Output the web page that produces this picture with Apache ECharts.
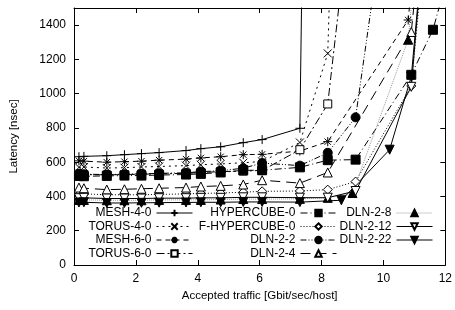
<!DOCTYPE html>
<html>
<head>
<meta charset="utf-8">
<script src="https://cdn.jsdelivr.net/npm/echarts@6/dist/echarts.min.js"></script>
<style>
  html, body { margin: 0; padding: 0; background: #fff; }
  #chart { width: 455px; height: 310px; }
</style>
</head>
<body>
<div id="chart"></div>
<script>
// accepted traffic values (shared low-load points) and latency per network
const xBase = [0.16, 0.32, 1.06, 1.63, 2.18, 2.75, 3.62, 4.1, 4.74, 5.47, 6.08, 7.3];

const mesh40Y = [632, 634, 638, 644, 650, 656, 668, 679, 690, 714, 732, 798];
const mesh40TailX = [7.36];
const mesh40TailY = [1600];

const torus40Y = [570, 572, 566, 568, 572, 575, 580, 585, 590, 597, 604, 715];
const torus40TailX = [8.2, 8.28];
const torus40TailY = [1235, 1700];

const mesh60Y = [608, 606, 600, 603, 606, 612, 618, 625, 632, 644, 646, 665];
const mesh60TailX = [8.2, 10.8, 11.0];
const mesh60TailY = [720, 1430, 1800];

const torus60Y = [530, 528, 526, 528, 530, 532, 535, 540, 545, 548, 552, 673];
const torus60TailX = [8.2, 8.65];
const torus60TailY = [940, 1650];

const hyperY = [520, 518, 520, 522, 522, 525, 528, 532, 540, 553, 553, 570];
const hyperTailX = [8.2, 9.1, 10.9, 11.6, 12.1];
const hyperTailY = [612, 615, 1110, 1373, 1700];

const fhyperY = [412, 415, 410, 410, 410, 412, 415, 418, 420, 425, 430, 432];
const fhyperTailX = [8.2, 9.1, 10.9, 11.3];
const fhyperTailY = [440, 487, 1045, 1800];

const dln22Y = [532, 530, 528, 530, 532, 535, 538, 545, 550, 565, 595, 580];
const dln22TailX = [8.2, 9.1, 9.65];
const dln22TailY = [655, 862, 1560];

const dln24Y = [452, 448, 440, 442, 445, 448, 452, 458, 462, 470, 495, 478];
const dln24TailX = [8.2, 10.9, 11.2];
const dln24TailY = [540, 1360, 1900];

const dln28Y = [380, 380, 378, 378, 378, 380, 380, 380, 382, 385, 385, 386];
const dln28TailX = [8.2, 9.0, 10.8, 11.1];
const dln28TailY = [392, 420, 1315, 1900];

const dln212Y = [390, 392, 388, 388, 388, 390, 390, 392, 392, 395, 395, 393];
const dln212TailX = [8.2, 9.1, 10.9, 11.3];
const dln212TailY = [393, 432, 1040, 1900];

const dln222Y = [365, 366, 362, 362, 363, 364, 365, 366, 366, 368, 368, 367];
const dln222TailX = [8.64, 10.2, 10.9, 11.3];
const dln222TailY = [378, 673, 1100, 1900];

const yTicks = [0, 200, 400, 600, 800, 1000, 1200, 1400];

function pts(ys, tx, ty) {
  const out = xBase.map((x, i) => [x, ys[i]]);
  tx.forEach((x, i) => out.push([x, ty[i]]));
  return out;
}

const PLUS = 'path://M0,5H10M5,0V10';
const CROSS = 'path://M0,0L10,10M10,0L0,10';
const STAR = 'path://M0,5H10M5,0V10M1.5,1.5L8.5,8.5M8.5,1.5L1.5,8.5';
const TRI_DOWN = 'path://M0,0L10,0L5,9Z';

function mk(name, data, dash, symbol, fill, size, lineColor) {
  return {
    name: name,
    type: 'line',
    data: data,
    symbol: symbol,
    symbolSize: size,
    showAllSymbol: true,
    animation: false,
    lineStyle: { color: lineColor || '#000', width: 1, type: dash },
    itemStyle: { color: fill, borderColor: '#000', borderWidth: 1 },
    emphasis: { disabled: true },
    z: 3
  };
}

const series = [
  mk('MESH-4-0', pts(mesh40Y, mesh40TailX, mesh40TailY), 'solid', PLUS, '#000', 9),
  mk('TORUS-4-0', pts(torus40Y, torus40TailX, torus40TailY), [2, 4], CROSS, '#000', 8),
  mk('MESH-6-0', pts(mesh60Y, mesh60TailX, mesh60TailY), [5, 4], STAR, '#000', 9),
  mk('TORUS-6-0', pts(torus60Y, torus60TailX, torus60TailY), [8, 3, 2, 3], 'rect', '#fff', 8),
  mk('HYPERCUBE-0', pts(hyperY, hyperTailX, hyperTailY), [7, 3, 1, 3], 'rect', '#000', 9),
  mk('F-HYPERCUBE-0', pts(fhyperY, fhyperTailX, fhyperTailY), [1, 2], 'diamond', '#fff', 9),
  mk('DLN-2-2', pts(dln22Y, dln22TailX, dln22TailY), [6, 2, 1, 2, 1, 2], 'circle', '#000', 9),
  mk('DLN-2-4', pts(dln24Y, dln24TailX, dln24TailY), [10, 6], 'triangle', '#fff', 9),
  mk('DLN-2-8', pts(dln28Y, dln28TailX, dln28TailY), [1, 1], 'triangle', '#000', 9, '#999'),
  mk('DLN-2-12', pts(dln212Y, dln212TailX, dln212TailY), 'solid', TRI_DOWN, '#fff', 9),
  mk('DLN-2-22', pts(dln222Y, dln222TailX, dln222TailY), 'solid', TRI_DOWN, '#000', 9)
];

const font = 'Liberation Sans';

function legendCol(names, right) {
  return {
    data: names,
    orient: 'vertical',
    align: 'right',
    right: right,
    top: 207,
    itemWidth: 36,
    itemHeight: 8,
    itemGap: 1.5,
    padding: 0,
    selectedMode: false,
    lineStyle: { width: 1 },
    textStyle: { fontFamily: font, fontSize: 12, color: '#000', lineHeight: 12 }
  };
}

const chart = echarts.init(document.getElementById('chart'), null, { renderer: 'canvas' });
chart.setOption({
  backgroundColor: '#fff',
  animation: false,
  grid: { left: 72, right: 7, top: 8, bottom: 45 },
  legend: [
    legendCol(['MESH-4-0', 'TORUS-4-0', 'MESH-6-0', 'TORUS-6-0'], 262),
    legendCol(['HYPERCUBE-0', 'F-HYPERCUBE-0', 'DLN-2-2', 'DLN-2-4'], 118),
    legendCol(['DLN-2-8', 'DLN-2-12', 'DLN-2-22'], 22)
  ],
  xAxis: [{
    type: 'value', min: 0, max: 12, interval: 2,
    name: 'Accepted traffic [Gbit/sec/host]', nameLocation: 'middle', nameGap: 24,
    nameTextStyle: { fontFamily: font, fontSize: 11.5, color: '#000' },
    axisLine: { onZero: false, lineStyle: { color: '#000', width: 1 } },
    axisTick: { inside: true, length: 5, lineStyle: { color: '#000' } },
    axisLabel: { fontFamily: font, fontSize: 12, color: '#000', margin: 8 },
    splitLine: { show: false }
  }, {
    type: 'value', min: 0, max: 12, interval: 2, position: 'top',
    axisLine: { onZero: false, lineStyle: { color: '#000', width: 1 } },
    axisTick: { inside: true, length: 5, lineStyle: { color: '#000' } },
    axisLabel: { show: false },
    splitLine: { show: false }
  }],
  yAxis: [{
    type: 'value', min: 0, max: 1500, interval: 200,
    name: 'Latency [nsec]', nameLocation: 'middle', nameGap: 54,
    nameTextStyle: { fontFamily: font, fontSize: 11.5, color: '#000' },
    axisLine: { show: true, onZero: false, lineStyle: { color: '#000', width: 1 } },
    axisTick: { show: true, inside: true, length: 5, lineStyle: { color: '#000' } },
    axisLabel: {
      fontFamily: font, fontSize: 12, color: '#000', margin: 8,
      formatter: v => (yTicks.indexOf(v) >= 0 ? String(v) : '')
    },
    splitLine: { show: false }
  }, {
    type: 'value', min: 0, max: 1500, interval: 200, position: 'right',
    axisLine: { show: true, onZero: false, lineStyle: { color: '#000', width: 1 } },
    axisTick: { show: true, inside: true, length: 5, lineStyle: { color: '#000' } },
    axisLabel: { show: false },
    splitLine: { show: false }
  }],
  series: series
});
</script>
</body>
</html>
